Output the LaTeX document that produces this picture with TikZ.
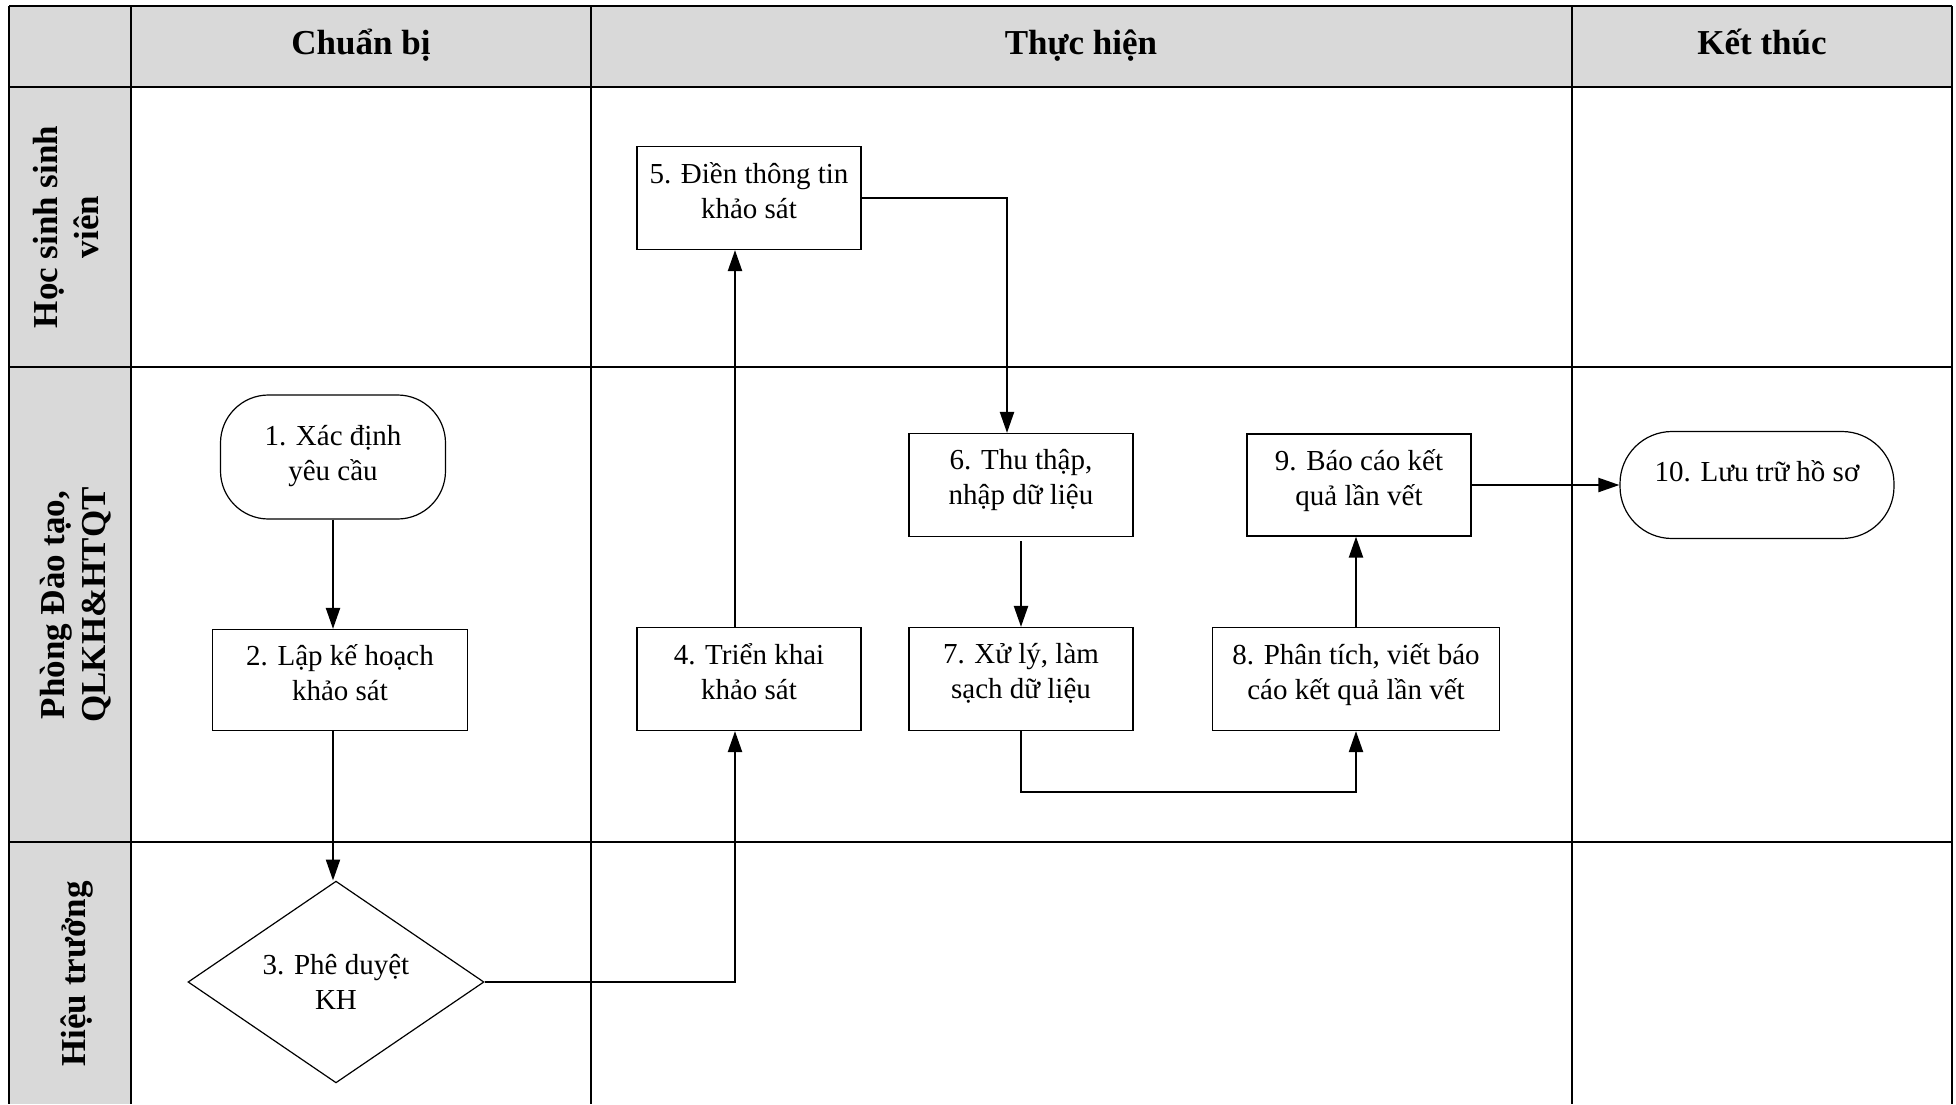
\documentclass[tikz,border=0pt]{standalone}
\usepackage{fontspec}
\setmainfont{Liberation Serif}
\usepackage{tikz}
\usetikzlibrary{shapes.geometric, arrows.meta, positioning, calc}
\definecolor{lanegray}{RGB}{217, 217, 217}
\tikzset{
    grid/.style={draw, line width=1.3pt},
    header/.style={font=\fontsize{17.5}{21}\selectfont\bfseries, anchor=base},
    lanelabel/.style={font=\fontsize{17.5}{20.5}\selectfont\bfseries, rotate=90, align=center, anchor=center},
    procbox/.style={rectangle, draw, line width=0.6pt, align=center, inner sep=2pt, text depth=8pt, font=\fontsize{14.5}{17.5}\selectfont},
    startstop/.style={procbox, rounded corners=24pt},
    decision/.style={diamond, draw, line width=0.6pt, align=center, inner sep=0pt, font=\fontsize{14.5}{17.5}\selectfont},
    line/.style={draw, -{Triangle[length=10.5pt, width=7pt]}, line width=1.1pt}
}

\begin{document}
\begin{tikzpicture}[x=0.5pt, y=-0.5pt]
        \useasboundingbox (0,0) rectangle (1956,1104);

        % Grid of the swimlanes
        \fill[lanegray] (9,6) rectangle (1952,87);
        \fill[lanegray] (9,87) rectangle (131,1104);
        \foreach \y in {6, 87, 367, 842}
            \draw[grid] (9,\y) -- (1952,\y);
        \foreach \x in {9, 131, 591, 1572, 1952}
            \draw[grid] (\x,6) -- (\x,1104);

        % Phase headers
        \node[header] (hPrep) at (361,54) {Chuẩn bị};
        \node[header] (hDo) at (1081,54) {Thực hiện};
        \node[header] (hEnd) at (1762,54) {Kết thúc};

        % Lane labels
        \node[lanelabel] (lStudent) at (66,227) {Học sinh sinh\\viên};
        \node[lanelabel] (lOffice) at (76,605) {Phòng Đào tạo,\\QLKH\&HTQT};
        \node[lanelabel] (lRector) at (77,974) {Hiệu trưởng};

        % Steps
        \node[startstop, minimum width=112.5pt, minimum height=62pt, text depth=4.5pt] (n1) at (333,457) {1. Xác định\\yêu cầu};
        \node[procbox, minimum width=127.5pt, minimum height=50.5pt] (n2) at (340,680) {2. Lập kế hoạch\\khảo sát};
        \node[decision, minimum width=148pt, minimum height=83pt] (n3) at (336,982) {3. Phê duyệt\\KH};
        \node[procbox, minimum width=112pt, minimum height=51.5pt] (n4) at (749,679) {4. Triển khai\\khảo sát};
        \node[procbox, minimum width=112pt, minimum height=51.5pt] (n5) at (749,198) {5. Điền thông tin\\khảo sát};
        \node[procbox, minimum width=112pt, minimum height=51.5pt] (n6) at (1021,485) {6. Thu thập,\\nhập dữ liệu};
        \node[procbox, minimum width=112pt, minimum height=51.5pt] (n7) at (1021,679) {7. Xử lý, làm\\sạch dữ liệu};
        \node[procbox, minimum width=143.5pt, minimum height=51.5pt] (n8) at (1356,679) {8. Phân tích, viết báo\\cáo kết quả lần vết};
        \node[procbox, minimum width=112pt, minimum height=51pt] (n9) at (1359,485) {9. Báo cáo kết\\quả lần vết};
        \node[startstop, minimum width=137pt, minimum height=53.5pt, rounded corners=26pt, text depth=14pt] (n10) at (1757,485) {10. Lưu trữ hồ sơ};

        % Flow
        \draw[line] (n1.south) -- (n1.south |- n2.north);
        \draw[line] (n2.south -| n1.south) -- (n1.south |- n3.north);
        \draw[line] (n3.east) -| ([xshift=-7pt]n4.south);
        \draw[line] ([xshift=-7pt]n4.north) -- ([xshift=-7pt]n4.north |- n5.south);
        \draw[line] (n5.east) -| ([xshift=-7pt]n6.north);
        \draw[line] ([yshift=-2pt]n6.south) -- (n7.north);
        \draw[line] (n7.south) -- ++(0,61) -| (n8.south);
        \draw[line] (n8.north) -- (n8.north |- n9.south);
        \draw[line] (n9.east) -- (n10.west);
    \end{tikzpicture}
\end{document}
